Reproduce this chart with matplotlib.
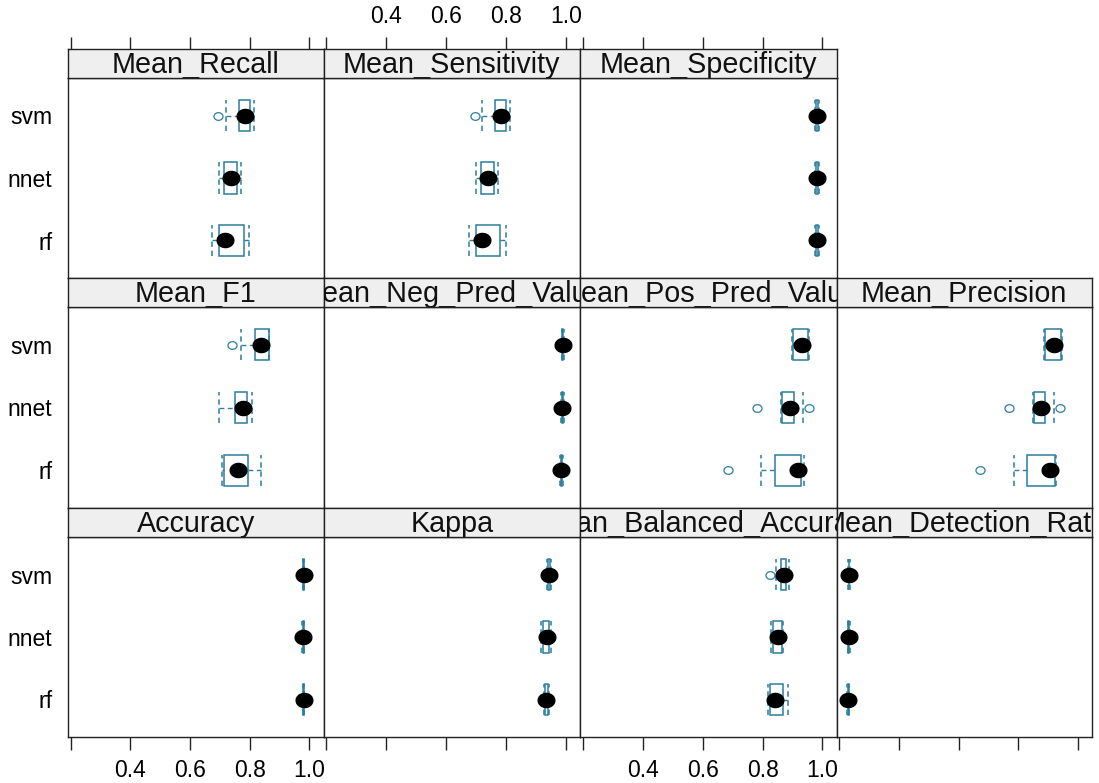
import matplotlib
matplotlib.use("Agg")
import matplotlib.pyplot as plt
from matplotlib.path import Path
from matplotlib.patches import Rectangle
import numpy as np

# Resampling results per model: [lower whisker, Q1, median, Q3, upper whisker]
# Row order in each list: rf, nnet, svm
models = ["rf", "nnet", "svm"]

mean_recall = [[0.675, 0.698, 0.718, 0.779, 0.799],
               [0.698, 0.715, 0.738, 0.758, 0.772],
               [0.719, 0.763, 0.783, 0.800, 0.813]]
mean_recall_out = [[], [], [0.695]]

mean_sensitivity = [[0.675, 0.698, 0.718, 0.779, 0.799],
                    [0.698, 0.715, 0.738, 0.758, 0.772],
                    [0.719, 0.763, 0.783, 0.800, 0.813]]
mean_sensitivity_out = [[], [], [0.695]]

mean_specificity = [[0.976, 0.979, 0.983, 0.986, 0.990],
                    [0.975, 0.978, 0.982, 0.985, 0.989],
                    [0.976, 0.979, 0.982, 0.985, 0.989]]
mean_specificity_out = [[], [], []]

mean_f1 = [[0.708, 0.712, 0.762, 0.795, 0.839],
           [0.698, 0.752, 0.776, 0.792, 0.806],
           [0.769, 0.819, 0.836, 0.863, 0.866]]
mean_f1_out = [[], [], [0.742]]

mean_neg_pred_value = [[0.980, 0.983, 0.985, 0.988, 0.991],
                       [0.984, 0.986, 0.988, 0.991, 0.993],
                       [0.986, 0.988, 0.990, 0.991, 0.993]]
mean_neg_pred_value_out = [[], [], []]

mean_pos_pred_value = [[0.795, 0.841, 0.919, 0.929, 0.939],
                       [0.862, 0.865, 0.892, 0.906, 0.936],
                       [0.897, 0.902, 0.932, 0.952, 0.955]]
mean_pos_pred_value_out = [[0.684], [0.781, 0.956], []]

mean_precision = [[0.784, 0.829, 0.907, 0.924, 0.927],
                  [0.848, 0.851, 0.877, 0.890, 0.918],
                  [0.886, 0.890, 0.918, 0.944, 0.948]]
mean_precision_out = [[0.672], [0.770, 0.938], []]

accuracy = [[0.977, 0.978, 0.980, 0.981, 0.983],
            [0.975, 0.977, 0.979, 0.981, 0.983],
            [0.977, 0.979, 0.980, 0.982, 0.983]]
accuracy_out = [[], [], []]

kappa = [[0.928, 0.930, 0.934, 0.940, 0.945],
         [0.917, 0.925, 0.937, 0.945, 0.950],
         [0.937, 0.940, 0.944, 0.947, 0.950]]
kappa_out = [[], [], []]

mean_balanced_accuracy = [[0.818, 0.825, 0.842, 0.868, 0.885],
                          [0.828, 0.835, 0.852, 0.865, 0.869],
                          [0.845, 0.862, 0.872, 0.878, 0.888]]
mean_balanced_accuracy_out = [[], [], [0.825]]

mean_detection_rate = [[0.226, 0.227, 0.229, 0.231, 0.232],
                       [0.229, 0.230, 0.232, 0.233, 0.234],
                       [0.230, 0.231, 0.232, 0.233, 0.234]]
mean_detection_rate_out = [[], [], []]

x_ticks = [0.2, 0.4, 0.6, 0.8, 1.0]
x_tick_labels = ["", "0.4", "0.6", "0.8", "1.0"]

# panel grid: (row from top, column) -> metric
panels = [
    (0, 0, "Mean_Recall", mean_recall, mean_recall_out),
    (0, 1, "Mean_Sensitivity", mean_sensitivity, mean_sensitivity_out),
    (0, 2, "Mean_Specificity", mean_specificity, mean_specificity_out),
    (1, 0, "Mean_F1", mean_f1, mean_f1_out),
    (1, 1, "Mean_Neg_Pred_Value", mean_neg_pred_value, mean_neg_pred_value_out),
    (1, 2, "Mean_Pos_Pred_Value", mean_pos_pred_value, mean_pos_pred_value_out),
    (1, 3, "Mean_Precision", mean_precision, mean_precision_out),
    (2, 0, "Accuracy", accuracy, accuracy_out),
    (2, 1, "Kappa", kappa, kappa_out),
    (2, 2, "Mean_Balanced_Accuracy", mean_balanced_accuracy, mean_balanced_accuracy_out),
    (2, 3, "Mean_Detection_Rate", mean_detection_rate, mean_detection_rate_out),
]

W, H = 1099, 783
BOX_COL = "#2a7f9e"
FRAME_COL = "#222222"
STRIP_BG = "#efefef"
FONT = "Liberation Sans"
XLIM = (0.19, 1.047)
YLIM = (0.4, 3.6)

col_edges = [67.7, 323.5, 580.0, 836.5, 1092.0]
row_strip = [(49, 78), (278, 307), (508, 537)]
row_panel = [(78, 278), (307, 508), (537, 737)]

# slightly wide ellipse used for the median dots and outlier circles
t = np.linspace(0, 2 * np.pi, 60)
ell = Path(np.column_stack([1.18 * np.cos(t), np.sin(t)]), closed=True)

fig = plt.figure(figsize=(W / 100, H / 100), dpi=100)
fig.patch.set_facecolor("white")


def frac(x0, y0, x1, y1):
    return [x0 / W, 1 - y1 / H, (x1 - x0) / W, (y1 - y0) / H]


dash = (0, (3.5, 2.5))

for r, c, name, stats, outs in panels:
    x0, x1 = col_edges[c], col_edges[c + 1]
    py0, py1 = row_panel[r]
    sy0, sy1 = row_strip[r]

    ax = fig.add_axes(frac(x0, py0, x1, py1))
    ax.set_xlim(*XLIM)
    ax.set_ylim(*YLIM)
    for sp in ax.spines.values():
        sp.set_color(FRAME_COL)
        sp.set_linewidth(1.0)

    for i, (s, o) in enumerate(zip(stats, outs)):
        y = i + 1
        lo, q1, med, q3, hi = s
        hw = 0.25
        ax.add_patch(Rectangle((q1, y - hw), q3 - q1, 2 * hw, fill=False,
                               edgecolor=BOX_COL, lw=1.1, zorder=2))
        ax.plot([lo, q1], [y, y], color=BOX_COL, lw=1.0, ls=dash, zorder=2)
        ax.plot([q3, hi], [y, y], color=BOX_COL, lw=1.0, ls=dash, zorder=2)
        ax.plot([lo, lo], [y - hw, y + hw], color=BOX_COL, lw=1.1, ls=dash, zorder=2)
        ax.plot([hi, hi], [y - hw, y + hw], color=BOX_COL, lw=1.1, ls=dash, zorder=2)
        if o:
            ax.plot(o, [y] * len(o), ls="none", marker=ell, ms=6.5,
                    mfc="none", mec=BOX_COL, mew=0.9, zorder=3)
        ax.plot([med], [y], ls="none", marker=ell, ms=12.0, color="black", zorder=4)

    # axes ticks
    ax.set_xticks(x_ticks)
    ax.set_yticks([1, 2, 3])
    ax.tick_params(axis="y", length=0, labelsize=16.5, pad=11)
    if c == 0:
        ax.set_yticklabels(models, fontfamily=FONT, fontsize=16.5)
    else:
        ax.set_yticklabels([])

    bottom = (r == 2)
    ax.tick_params(axis="x", direction="out", length=9, width=1.0, color=FRAME_COL,
                   bottom=bottom, labelbottom=bottom and c in (0, 2),
                   top=False, labeltop=False, labelsize=16.5, pad=7)
    ax.set_xticklabels(x_tick_labels, fontfamily=FONT)

    # strip with clipped title
    sax = fig.add_axes(frac(x0, sy0, x1, sy1))
    sax.set_facecolor(STRIP_BG)
    sax.set_xlim(0, 1)
    sax.set_ylim(0, 1)
    for sp in sax.spines.values():
        sp.set_color(FRAME_COL)
        sp.set_linewidth(1.0)
    sax.set_xticks([])
    sax.set_yticks([])
    sax.text(0.5, 0.45, name, ha="center", va="center", fontsize=20.7,
             fontfamily=FONT, color="#111111", clip_on=True)

    # ticks on top of the uppermost row
    if r == 0:
        sax.set_xlim(*XLIM)
        sax.texts[0].set_x(sum(XLIM) / 2)
        sax.set_xticks(x_ticks)
        sax.tick_params(axis="x", direction="out", length=9, width=1.0, color=FRAME_COL,
                        top=True, bottom=False, labelbottom=False,
                        labeltop=(c == 1), labelsize=16.5, pad=6)
        sax.set_xticklabels(x_tick_labels, fontfamily=FONT)

fig.savefig("out.png", dpi=100, facecolor="white")
